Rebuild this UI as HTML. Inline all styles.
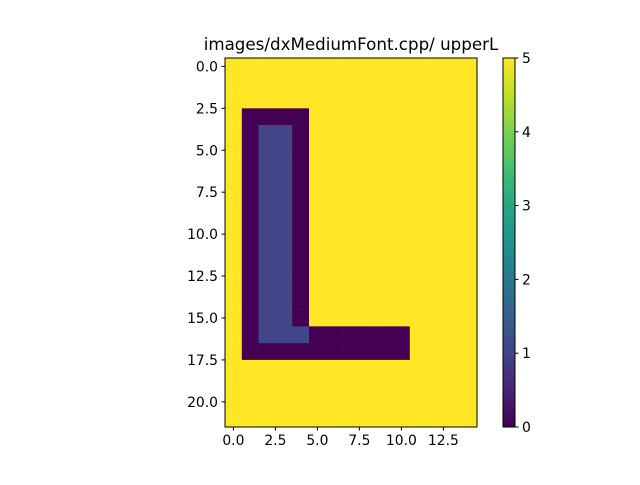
<!DOCTYPE html>
<html><head><meta charset="utf-8"><style>
body{margin:0;background:#fff;}
svg text{font-family:"DejaVu Sans","Liberation Sans",sans-serif;fill:#000;}
</style></head><body>
<svg id="chart" width="640" height="480" xmlns="http://www.w3.org/2000/svg">
<defs><linearGradient id="vir" x1="0" y1="1" x2="0" y2="0">
<stop offset="0" stop-color="#440154"/><stop offset="0.1" stop-color="#482475"/><stop offset="0.2" stop-color="#414487"/><stop offset="0.3" stop-color="#355f8d"/><stop offset="0.4" stop-color="#2a788e"/><stop offset="0.5" stop-color="#21918c"/><stop offset="0.6" stop-color="#22a884"/><stop offset="0.7" stop-color="#44bf70"/><stop offset="0.8" stop-color="#7ad151"/><stop offset="0.9" stop-color="#bddf26"/><stop offset="1" stop-color="#fde725"/>
</linearGradient></defs>
<text x="351" y="50" font-size="16.7" text-anchor="middle">images/dxMediumFont.cpp/ upperL</text>
<g id="cells"></g>
<rect x="225" y="58" width="252" height="369" fill="none" stroke="#000" stroke-width="1"/>
<g id="axes"></g>
<rect x="503" y="58" width="12" height="369" fill="url(#vir)" stroke="#000" stroke-width="1"/>
<g id="cbar"></g>
</svg>
<script>
const rows = [
"555555555555555","555555555555555","555555555555555",
"500005555555555","501105555555555","501105555555555","501105555555555",
"501105555555555","501105555555555","501105555555555","501105555555555",
"501105555555555","501105555555555","501105555555555","501105555555555",
"501105555555555","501110000005555","500000000005555",
"555555555555555","555555555555555","555555555555555","555555555555555"];
const xTicks = [0,2.5,5,7.5,10,12.5];
const yTicks = [0,2.5,5,7.5,10,12.5,15,17.5,20];
const cTicks = [0,1,2,3,4,5];
const palette = {"0":"#440154","1":"#404688","5":"#fde725"};
const NS="http://www.w3.org/2000/svg";
const X0=225,Y0=58,W=252,H=369,nc=15,nr=22,cw=W/nc,rh=H/nr;
const xs=v=>X0+(v+0.5)*cw, ys=v=>Y0+(v+0.5)*rh;
function mk(t,a,p){const e=document.createElementNS(NS,t);for(const k in a)e.setAttribute(k,a[k]);p.appendChild(e);return e;}
const cells=document.getElementById('cells');
rows.forEach((r,i)=>{for(let j=0;j<r.length;j++){
 const e=mk('rect',{x:xs(j-0.5),y:ys(i-0.5),width:cw+0.3,height:rh+0.3,fill:palette[r[j]]},cells);
 
 
}});
const ax=document.getElementById('axes');
xTicks.forEach(v=>{const x=xs(v);
 mk('line',{x1:x,x2:x,y1:427,y2:430.5,stroke:'#000'},ax);
 const t=mk('text',{x:x,y:445,'font-size':13.9,'text-anchor':'middle'},ax);t.textContent=v.toFixed(1);
 
 
});
yTicks.forEach(v=>{const y=ys(v);
 mk('line',{x1:221.5,x2:225,y1:y,y2:y,stroke:'#000'},ax);
 const t=mk('text',{x:218,y:y+5,'font-size':13.9,'text-anchor':'end'},ax);t.textContent=v.toFixed(1);
 
 
});
const cb=document.getElementById('cbar');
cTicks.forEach(v=>{const y=427-v/5*369;
 mk('line',{x1:515,x2:518.5,y1:y,y2:y,stroke:'#000'},cb);
 const t=mk('text',{x:522,y:y+5,'font-size':13.9},cb);t.textContent=v;
 
 
});
</script>
</body></html>
